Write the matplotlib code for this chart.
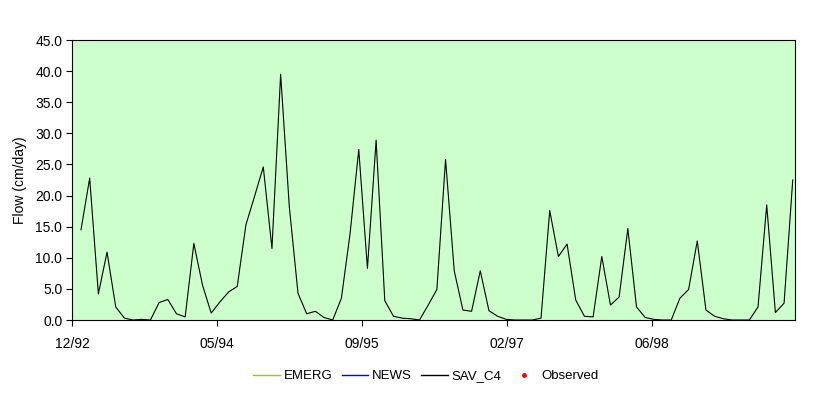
import numpy as np
import matplotlib
matplotlib.use("Agg")
import matplotlib.pyplot as plt
from matplotlib.lines import Line2D

params = {
    "font.family": ["Liberation Sans", "DejaVu Sans"],
    "font.size": 10,
    "xtick.direction": "out",
    "ytick.direction": "out",
    "xtick.major.size": 4,
    "ytick.major.size": 4,
    "xtick.major.width": 0.8,
    "ytick.major.width": 0.8,
    "axes.linewidth": 0.8,
}
plt.rcParams.update(params)

# simulated flow, SAV_C4 series (one value per time step)
sav_c4 = [14.5, 22.8, 4.2, 10.9, 2.1, 0.3, 0.0, 0.1, 0.0, 2.8,
          3.3, 1.0, 0.5, 12.3, 5.6, 1.1, 2.9, 4.5, 5.4, 15.3,
          19.9, 24.6, 11.5, 39.5, 18.2, 4.3, 1.0, 1.4, 0.4, 0.0,
          3.5, 13.9, 27.4, 8.3, 28.9, 3.1, 0.6, 0.3, 0.2, 0.0,
          2.4, 4.9, 25.8, 7.9, 1.6, 1.4, 7.9, 1.5, 0.6, 0.1,
          0.0, 0.0, 0.0, 0.3, 17.6, 10.2, 12.2, 3.2, 0.6, 0.5,
          10.2, 2.4, 3.7, 14.7, 2.1, 0.4, 0.1, 0.0, 0.0, 3.5,
          4.9, 12.7, 1.6, 0.6, 0.2, 0.0, 0.0, 0.0, 2.1, 18.5,
          1.2, 2.7, 22.5]
tick_labels = ["12/92", "05/94", "09/95", "02/97", "06/98"]
legend_names = ["EMERG", "NEWS", "SAV_C4", "Observed"]

t = np.arange(len(sav_c4))

fig = plt.figure(figsize=(8.3, 3.97), dpi=100)
ax = fig.add_axes([72 / 830, 77 / 397, 723 / 830, 280 / 397])
ax.set_facecolor("#CCFFCC")

ax.plot(t, sav_c4, color="black", lw=0.8)

# axis spans -1.04 .. 82.26 in step units, ticks every 16.71 steps
x0 = -1.037
step = 16.707
ax.set_xlim(x0, 82.26)
ax.set_xticks([x0 + i * step for i in range(len(tick_labels))])
ax.set_xticklabels(tick_labels)

ax.set_ylim(0, 45)
ax.set_yticks(np.arange(0, 45.1, 5))
ax.set_yticklabels(["%.1f" % v for v in np.arange(0, 45.1, 5)])
ax.tick_params(axis="x", pad=8)
ax.tick_params(axis="y", pad=3)
ax.set_ylabel("Flow (cm/day)", labelpad=6)

handles = [
    Line2D([], [], color="#99CC00", lw=1),
    Line2D([], [], color="#0000FF", lw=1),
    Line2D([], [], color="black", lw=1),
    Line2D([], [], color="red", marker="o", ms=2.5, ls="none"),
]
fig.legend(handles, legend_names, loc="center", bbox_to_anchor=(0.513, 0.052),
           ncol=4, frameon=False, handlelength=2.0, handletextpad=0.3,
           columnspacing=0.7, fontsize=9.5)

plt.savefig("out.png", dpi=100)
